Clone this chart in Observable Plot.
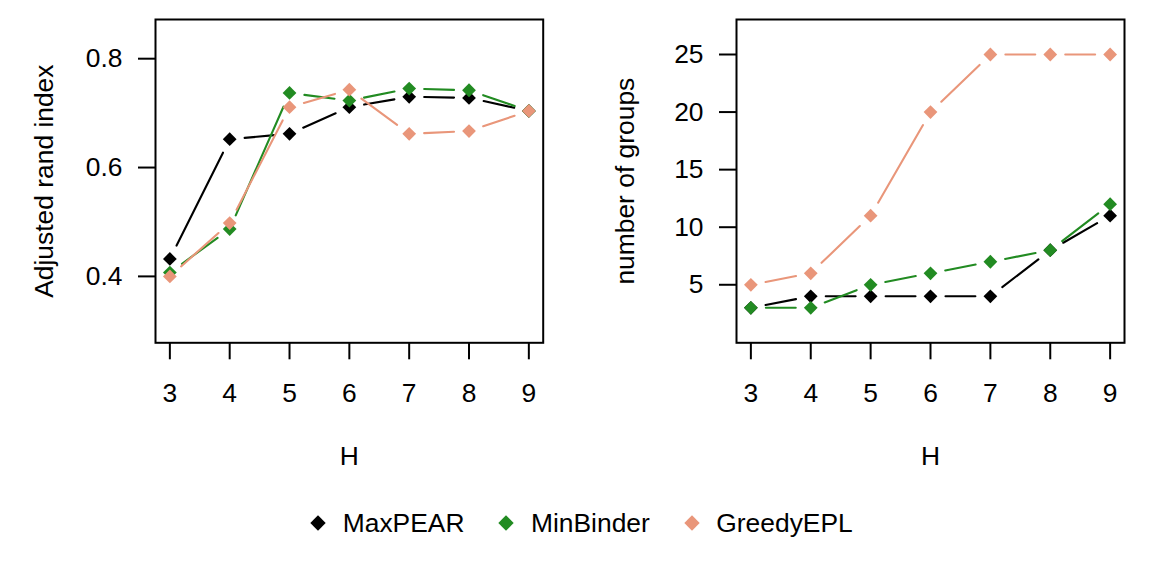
<!DOCTYPE html>
<html>
<head>
<meta charset="utf-8">
<script src="https://cdn.jsdelivr.net/npm/d3@7"></script>
<script src="https://cdn.jsdelivr.net/npm/@observablehq/plot@0.6"></script>
<style>
  html, body { margin: 0; padding: 0; background: #ffffff; }
  #wrap { position: relative; width: 1163px; height: 581px; background: #ffffff; overflow: hidden;
          font-family: "Liberation Sans", Arial, Helvetica, sans-serif; }
  #left, #right { position: absolute; top: 0; }
  #left { left: 0; }
  #right { left: 581px; }
  #legend { position: absolute; left: 0; width: 1163px; top: 506px; height: 34px;
            display: flex; justify-content: center; align-items: center; font-size: 26.4px; color: #000; }
  .item { display: flex; align-items: center; }
  .item + .item { margin-left: 34px; }
  .item svg { margin-right: 16.5px; }
</style>
</head>
<body>
<div id="wrap">
  <div id="left"></div>
  <div id="right"></div>
  <div id="legend"></div>
</div>
<script>
// ---- data ----
const H = [3, 4, 5, 6, 7, 8, 9];
const methods = ["MaxPEAR", "MinBinder", "GreedyEPL"];
const methodColors = ["#000000", "#228B22", "#E9967A"];

const ariMaxPEAR   = [0.432, 0.652, 0.662, 0.711, 0.730, 0.728, 0.704];
const ariMinBinder = [0.407, 0.487, 0.737, 0.723, 0.745, 0.742, 0.704];
const ariGreedyEPL = [0.400, 0.498, 0.711, 0.743, 0.662, 0.667, 0.704];

const groupsMaxPEAR   = [3, 4, 4, 4, 4, 8, 11];
const groupsMinBinder = [3, 3, 5, 6, 7, 8, 12];
const groupsGreedyEPL = [5, 6, 11, 20, 25, 25, 25];

const xTicks = [3, 4, 5, 6, 7, 8, 9];
const ariTicks = [0.4, 0.6, 0.8];
const groupTicks = [5, 10, 15, 20, 25];
const xLabel = "H";
const ariLabel = "Adjusted rand index";
const groupsLabel = "number of groups";

// ---- R type="b" style: segments with gaps around points ----
const GAP = 15;
function gapCurve(context) {
  let pts = [];
  return {
    areaStart() {}, areaEnd() {},
    lineStart() { pts = []; },
    point(x, y) { pts.push([+x, +y]); },
    lineEnd() {
      for (let i = 1; i < pts.length; i++) {
        const [x0, y0] = pts[i - 1], [x1, y1] = pts[i];
        const dx = x1 - x0, dy = y1 - y0, L = Math.hypot(dx, dy);
        if (L <= 2 * GAP) continue;
        const ux = dx / L, uy = dy / L;
        context.moveTo(x0 + ux * GAP, y0 + uy * GAP);
        context.lineTo(x1 - ux * GAP, y1 - uy * GAP);
      }
    }
  };
}

const FONT = "Liberation Sans, Arial, Helvetica, sans-serif";
const FS = 26.4;

function panel(seriesValues, yDomain, yTicks, yLabel, tickFormat, width, marginRight) {
  const rows = methods.flatMap((m, i) => H.map((h, j) => ({H: h, method: m, value: seriesValues[i][j]})));
  const seriesMarks = [];
  methods.forEach(m => {
    const d = rows.filter(r => r.method === m);
    seriesMarks.push(Plot.line(d, {x: "H", y: "value", stroke: "method", strokeWidth: 2.1, curve: gapCurve}));
    seriesMarks.push(Plot.dot(d, {x: "H", y: "value", fill: "method", symbol: "diamond2", r: 6.2, stroke: "none"}));
  });
  return Plot.plot({
    width, height: 480,
    marginLeft: 155, marginRight, marginTop: 19, marginBottom: 137.7,
    x: {domain: [2.76, 9.24]},
    y: {domain: yDomain},
    color: {domain: methods, range: methodColors},
    style: {fontFamily: FONT, fontSize: FS + "px", background: "transparent", color: "black"},
    marks: [
      Plot.frame({stroke: "black", strokeWidth: 2}),
      Plot.axisX({ticks: xTicks, tickSize: 17, tickPadding: 23.4, strokeWidth: 2, fontSize: FS, label: null, tickFormat: d => String(d)}),
      Plot.axisY({ticks: yTicks, tickSize: 17, tickPadding: 16, strokeWidth: 2, fontSize: FS, label: null, tickFormat}),
      Plot.text([yLabel], {frameAnchor: "left", textAnchor: "middle", lineAnchor: "middle", rotate: -90, dx: -110.7, fontSize: FS, fill: "black"}),
      Plot.text([xLabel], {frameAnchor: "bottom", textAnchor: "middle", lineAnchor: "middle", dy: 113.7, fontSize: FS, fill: "black"}),
      ...seriesMarks
    ]
  });
}

document.getElementById("left").append(
  panel([ariMaxPEAR, ariMinBinder, ariGreedyEPL], [0.278, 0.872], ariTicks, ariLabel, d3.format(".1f"), 581, 38.3)
);
document.getElementById("right").append(
  panel([groupsMaxPEAR, groupsMinBinder, groupsGreedyEPL], [-0.04, 28.04], groupTicks, groupsLabel, d => String(d), 582, 39)
);

// ---- legend ----
const legend = document.getElementById("legend");
methods.forEach((m, i) => {
  const item = document.createElement("div");
  item.className = "item";
  item.innerHTML = `<svg width="16" height="16" viewBox="-8 -8 16 16"><path d="M0,-7.7L7.7,0L0,7.7L-7.7,0Z" fill="${methodColors[i]}"/></svg><span>${m}</span>`;
  legend.append(item);
});
</script>
</body>
</html>
